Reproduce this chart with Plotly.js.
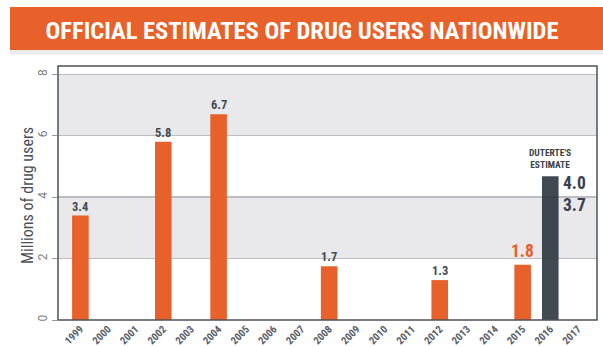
<!DOCTYPE html>
<html><head><meta charset="utf-8">
<script src="https://cdn.plot.ly/plotly-3.0.1.min.js"></script>
<style>html,body{margin:0;padding:0;background:#fff;}#chart{width:603px;height:347px;}</style>
</head><body><div id="chart"></div>
<script>
const years = ["1999","2000","2001","2002","2003","2004","2005","2006","2007","2008","2009","2010","2011","2012","2013","2014","2015","2016","2017"];
const users = [3.4,null,null,5.8,null,6.7,null,null,null,1.75,null,null,null,1.3,null,null,1.8,4.68,null];
const barLabels = ["3.4","","","5.8","","6.7","","","","1.7","","","","1.3","","","1.8","",""];
const duterteYear = "2016";
const duterteLabels = ["4.0","3.7"];
const duterteLabelValues = [4.0,3.7];
const yTicks = [0,2,4,6,8];

const ORANGE = "#e8602a", DARK = "rgba(34,44,55,0.86)", TXT = "#454b52";
const condensed = "Liberation Sans Narrow, Roboto Condensed, Roboto, sans-serif";

const colors = years.map(y => y === duterteYear ? DARK : ORANGE);
const dIdx = years.indexOf(duterteYear);

const annotations = [];
years.forEach((y,i) => {
  if (!barLabels[i]) return;
  const big = y === "2015";
  annotations.push({x:i, y:users[i], xref:"x", yref:"y", text:barLabels[i], showarrow:false,
    yanchor:"bottom", yshift: big ? 2 : 0,
    font:{family:condensed, size: big ? 17.5 : 12.5, color: big ? ORANGE : TXT, weight:700}});
});
duterteLabels.forEach((t,k) => {
  annotations.push({x:dIdx, y:duterteLabelValues[k], xref:"x", yref:"y", text:t, showarrow:false,
    xanchor:"left", xshift:11, yanchor:"middle", yshift: k===0 ? 14.5 : 1.5,
    font:{family:condensed, size:17.5, color:"#3a424b", weight:700}});
});
annotations.push({x:dIdx, y:users[dIdx], xref:"x", yref:"y",
  text:"DUTERTE'S<br>ESTIMATE", showarrow:false, yanchor:"bottom", yshift:4,
  font:{family:condensed, size:9.5, color:"#3a424b", weight:700}});
annotations.push({x:(27.5-58)/539, xref:"paper", xanchor:"center", y:0.49, yref:"paper", yanchor:"middle",
  text:"Millions of drug users", showarrow:false, textangle:-90,
  font:{family:condensed, size:16, color:"#4a4f55"}});

const shapes = [
  {type:"rect", xref:"paper", yref:"y", x0:0, x1:1, y0:2, y1:4, fillcolor:"#e9e9ec", line:{width:0}, layer:"below"},
  {type:"rect", xref:"paper", yref:"y", x0:0, x1:1, y0:6, y1:8, fillcolor:"#e9e9ec", line:{width:0}, layer:"below"},
  {type:"rect", xref:"paper", yref:"paper", x0:-0.089, x1:1.02, y0:1.045, y1:1.063, fillcolor:"#ececec", line:{width:0}},
  {type:"rect", xref:"paper", yref:"paper", x0:-0.089, x1:1.02, y0:1.063, y1:1.232, fillcolor:"#e8612a", line:{width:0}},
  {type:"rect", xref:"paper", yref:"paper", x0:0, x1:1, y0:0, y1:1, line:{color:"#4c5259", width:1.5}, layer:"above"}
];

Plotly.newPlot("chart", [{
  type:"bar", x:years, y:users, width:0.6,
  marker:{color:colors, line:{width:0}},
  hoverinfo:"none"
}], {
  width:603, height:347,
  margin:{l:58, r:6, t:66, b:27, pad:0},
  paper_bgcolor:"#fff", plot_bgcolor:"rgba(0,0,0,0)",
  showlegend:false,
  title:{text:"OFFICIAL ESTIMATES OF DRUG USERS NATIONWIDE", x:302/603, xref:"container", xanchor:"center",
    y:1-30/347, yref:"container", yanchor:"middle",
    font:{family:condensed, size:24.5, color:"#ffffff", weight:700}},
  xaxis:{type:"category", range:[-0.81,18.69], showgrid:false, zeroline:false, showline:false,
    tickangle:-45, ticks:"", tickfont:{family:condensed, size:10.5, color:"#596069", weight:700}, fixedrange:true},
  yaxis:{range:[0,8.27], tickvals:yTicks, ticktext:yTicks.map(String), tickangle:-90,
    showgrid:true, gridcolor:"#bdbdc0", gridwidth:1.5, zeroline:false, showline:false,
    ticks:"outside", ticklen:5, tickcolor:"#9a9a9a", tickwidth:1,
    tickfont:{family:"Roboto, sans-serif", size:12, color:"#7a7f85"},
    fixedrange:true},
  shapes:shapes, annotations:annotations
}, {displayModeBar:false, staticPlot:true});
</script></body></html>
